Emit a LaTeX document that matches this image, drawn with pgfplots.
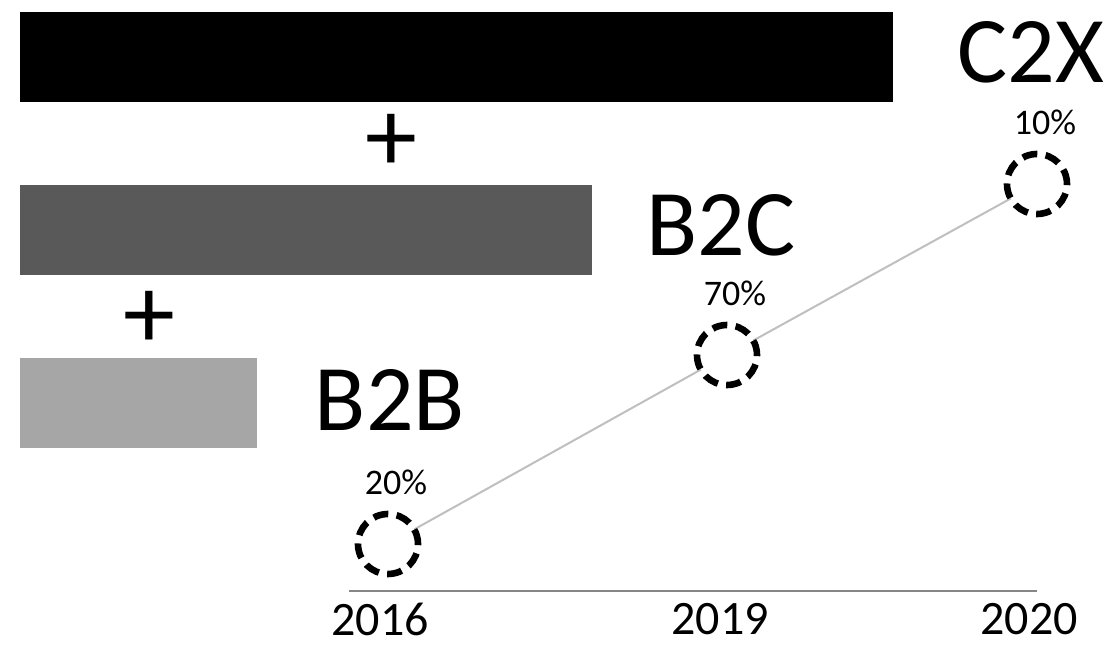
\documentclass[border=0pt]{standalone}
\usepackage{fontspec}
\setmainfont{Carlito}
\usepackage{graphicx}
\usepackage{pgfplots}
\pgfplotsset{compat=1.18}
\definecolor{barA}{HTML}{000000}
\definecolor{barB}{HTML}{595959}
\definecolor{barC}{HTML}{A6A6A6}
\definecolor{lineC}{HTML}{BFBFBF}
\definecolor{axisC}{HTML}{868686}
\begin{document}
\begin{tikzpicture}
% bar part
\begin{axis}[
  at={(10pt,100.5pt)}, anchor=south west,
  scale only axis, width=436.5pt, height=218pt,
  xmin=0, xmax=100, ymin=-0.26, ymax=2.26,
  hide axis, clip=false,
  xbar, bar width=45pt,
  nodes near coords, point meta=explicit symbolic,
  every node near coord/.style={anchor=west, inner sep=0pt, yshift=2.5pt, font=\fontsize{47}{56}\selectfont, text=black},
]
\addplot[bar shift=0pt, fill=barA, draw=none, nodes near coords style={xshift=32pt}] coordinates {(100,2) [C2X]};
\addplot[bar shift=0pt, fill=barB, draw=none, nodes near coords style={xshift=27pt}] coordinates {(65.5,1) [B2C]};
\addplot[bar shift=0pt, fill=barC, draw=none, nodes near coords style={xshift=29pt, yshift=-1pt}] coordinates {(27.1,0) [B2B]};
\node[font=\fontsize{52}{60}\selectfont, inner sep=0pt] at (axis cs:42.5,1.506) {+};
\node[font=\fontsize{52}{60}\selectfont, inner sep=0pt] at (axis cs:14.8,0.479) {+};
\end{axis}
% line part
\begin{axis}[
  at={(174.5pt,29pt)}, anchor=south west,
  scale only axis, width=344pt, height=245.5pt,
  xmin=0, xmax=6.88, ymin=0, ymax=4.91,
  clip=false,
  axis x line=bottom, axis y line=none,
  x axis line style={-, draw=axisC, line width=1pt},
  xtick={0.31,3.71,6.80},
  xticklabels={2016,2019,2020},
  xtick style={draw=none}, major tick length=0pt,
  xticklabel style={anchor=north, inner sep=0pt, yshift=-6pt, font=\fontsize{24}{28}\selectfont},
  ytick=\empty,
]
\addplot[color=lineC, line width=1pt, mark=*, mark size=15pt,
  mark options={draw=black, fill=white, line width=3.3pt, dash pattern=on 7.5pt off 4.2pt},
  nodes near coords, point meta=explicit symbolic,
  every node near coord/.style={anchor=center, inner sep=0pt, xshift=4pt, yshift=31pt, font=\fontsize{18}{22}\selectfont, text=black}]
  coordinates {(0.39,0.47) [20\%] (3.78,2.36) [70\%] (6.88,4.07) [10\%]};
\end{axis}
\pgfresetboundingbox
\useasboundingbox (0,0) rectangle (555pt,324.5pt);
\end{tikzpicture}
\end{document}
